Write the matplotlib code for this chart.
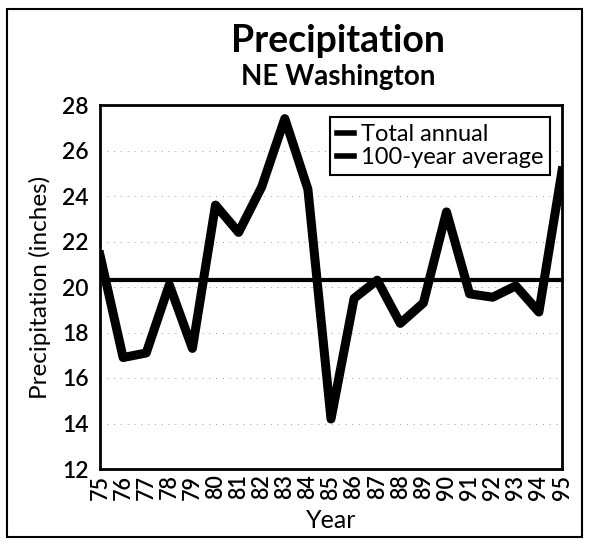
import matplotlib.pyplot as plt
from matplotlib.patches import Rectangle

plt.rcParams['font.family'] = ['Lato', 'DejaVu Sans']

years = list(range(75, 96))
precip = [21.4, 16.9, 17.1, 20.1, 17.3, 23.6, 22.4, 24.4, 27.4, 24.3,
          14.2, 19.5, 20.3, 18.4, 19.3, 23.3, 19.7, 19.55, 20.05, 18.9, 25.1]
avg_100yr = 20.3
year_labels = [str(y) for y in years]

fig = plt.figure(figsize=(5.89, 5.44), dpi=100)
ax = fig.add_axes([100 / 589, 75 / 544, 462 / 589, 364 / 544])

# frame around the whole figure
fig.patches.append(Rectangle((7 / 589, 7 / 544), 575 / 589, 528 / 544,
                             transform=fig.transFigure, fill=False,
                             edgecolor='black', linewidth=1.5))

ax.plot(years, precip, color='black', linewidth=6.5, solid_joinstyle='round',
        label='Total annual')
ax.axhline(avg_100yr, color='black', linewidth=3, label='100-year average')

ax.set_xlim(75, 95)
ax.set_ylim(12, 28)
ax.set_yticks(range(12, 29, 2))
ax.set_xticks(years)
ax.set_xticklabels(year_labels, rotation=90, fontsize=15.5, fontweight='semibold')
ax.tick_params(axis='y', labelsize=16.5, length=0, pad=8)
ax.tick_params(axis='x', length=0, pad=4)
for t in ax.get_yticklabels():
    t.set_fontweight('semibold')
for y in range(14, 28, 2):
    ax.axhline(y, color='#999999', linewidth=0.7, linestyle=(0, (1, 6)), zorder=0)
for s in ax.spines.values():
    s.set_linewidth(2)

ax.set_xlabel('Year', fontsize=18, labelpad=7)
ax.set_ylabel('Precipitation (inches)', fontsize=17.5, labelpad=8)

fig.text(0.574, 0.905, 'Precipitation', ha='center', fontsize=27, fontweight='bold')
fig.text(0.574, 0.843, 'NE Washington', ha='center', fontsize=20, fontweight='bold')

leg = ax.legend(loc='upper right', fontsize=17, handlelength=0.7, handletextpad=0.3,
                borderpad=0.3, labelspacing=0.1, fancybox=False, framealpha=1,
                edgecolor='black', borderaxespad=0.5)
leg.get_frame().set_linewidth(1.5)
for h in leg.get_lines():
    h.set_linewidth(4)

fig.savefig('out.png', dpi=100)
